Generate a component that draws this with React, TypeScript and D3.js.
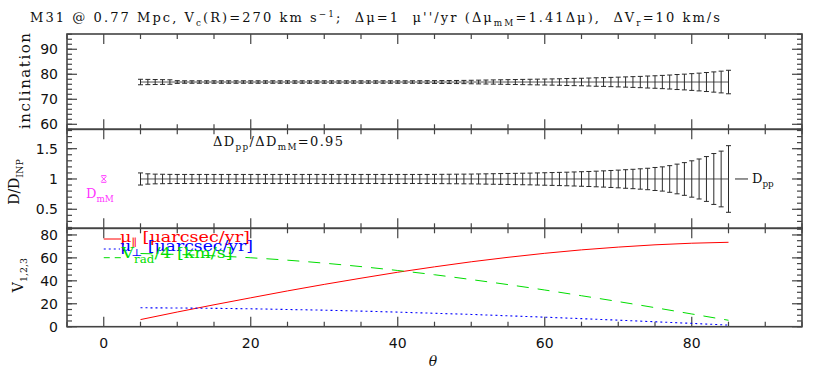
import React from "react";
import * as d3 from "d3";

// ---- data ----
const thetas = d3.range(5, 86); // one bar per degree, 5..85

const inclination = [
  76.9, 76.9, 76.9, 76.9, 76.9, 76.9, 76.9, 76.9, 76.9, 76.9,
  76.9, 76.9, 76.9, 76.9, 76.9, 76.9, 76.9, 76.9, 76.9, 76.9,
  76.9, 76.9, 76.9, 76.9, 76.9, 76.9, 76.9, 76.9, 76.9, 76.9,
  76.9, 76.9, 76.9, 76.9, 76.9, 76.9, 76.9, 76.9, 76.9, 76.9,
  76.9, 76.9, 76.9, 76.9, 76.9, 76.9, 76.9, 76.9, 76.9, 76.9,
  76.9, 76.9, 76.9, 76.9, 76.9, 76.9, 76.9, 76.9, 76.9, 76.9,
  76.9, 76.9, 76.9, 76.9, 76.9, 76.9, 76.9, 76.9, 76.9, 76.9,
  76.9, 76.9, 76.9, 76.9, 76.9, 76.9, 76.9, 76.9, 76.9, 76.9,
  76.9,
];
const inclinationErr = [
  1.1, 1.05, 1.0, 0.95, 0.9, 0.55, 0.5, 0.5, 0.5, 0.5,
  0.5, 0.5, 0.5, 0.5, 0.5, 0.5, 0.5, 0.5, 0.5, 0.5,
  0.5, 0.5, 0.5, 0.5, 0.5, 0.5, 0.5, 0.5, 0.5, 0.5,
  0.5, 0.5, 0.5, 0.5, 0.5, 0.5, 0.5, 0.5, 0.52, 0.54,
  0.56, 0.58, 0.6, 0.62, 0.65, 0.7, 0.75, 0.8, 0.85, 0.9,
  0.95, 1.0, 1.05, 1.1, 1.15, 1.2, 1.25, 1.3, 1.4, 1.45,
  1.5, 1.6, 1.7, 1.75, 1.85, 1.95, 2.05, 2.15, 2.25, 2.4,
  2.5, 2.65, 2.8, 3.0, 3.15, 3.35, 3.55, 3.8, 4.05, 4.35,
  4.7,
];

const distRatio = [
  1, 1, 1, 1, 1, 1, 1, 1, 1, 1,
  1, 1, 1, 1, 1, 1, 1, 1, 1, 1,
  1, 1, 1, 1, 1, 1, 1, 1, 1, 1,
  1, 1, 1, 1, 1, 1, 1, 1, 1, 1,
  1, 1, 1, 1, 1, 1, 1, 1, 1, 1,
  1, 1, 1, 1, 1, 1, 1, 1, 1, 1,
  1, 1, 1, 1, 1, 1, 1, 1, 1, 1,
  1, 1, 1, 1, 1, 1, 1, 1, 1, 1,
  1,
];
const distErr = [
  0.1, 0.085, 0.08, 0.078, 0.076, 0.075, 0.075, 0.075, 0.075, 0.075,
  0.075, 0.075, 0.075, 0.075, 0.075, 0.075, 0.075, 0.075, 0.075, 0.075,
  0.075, 0.075, 0.075, 0.075, 0.075, 0.075, 0.075, 0.075, 0.075, 0.075,
  0.075, 0.075, 0.075, 0.075, 0.075, 0.075, 0.075, 0.075, 0.075, 0.075,
  0.076, 0.077, 0.078, 0.079, 0.08, 0.081, 0.083, 0.085, 0.087, 0.089,
  0.091, 0.093, 0.095, 0.097, 0.1, 0.103, 0.106, 0.109, 0.112, 0.116,
  0.12, 0.124, 0.129, 0.134, 0.14, 0.146, 0.153, 0.16, 0.168, 0.177,
  0.19, 0.2, 0.22, 0.245, 0.27, 0.3, 0.33, 0.37, 0.42, 0.46,
  0.55,
];

const curveTheta = [5, 10, 15, 20, 25, 30, 35, 40, 45, 50, 55, 60, 65, 70, 75, 80, 85];
const muPar = [6.2, 12.8, 19.1, 25.2, 31.2, 36.9, 42.3, 47.5, 52.2, 56.6, 60.5, 64.0, 67.0, 69.4, 71.4, 72.8, 73.6];
const muPerp = [16.5, 16.3, 16.0, 15.6, 15.0, 14.4, 13.6, 12.7, 11.7, 10.7, 9.5, 8.3, 7.0, 5.7, 4.3, 2.9, 1.4];
const vRad4 = [63.8, 63.0, 61.8, 60.1, 58.0, 55.4, 52.4, 49.0, 45.3, 41.1, 36.7, 32.0, 27.0, 21.9, 16.6, 11.1, 5.6];

const xTickValues = [0, 20, 40, 60, 80];
const inclTickValues = [60, 70, 80, 90];
const distTickValues = [0.5, 1, 1.5];
const distTickLabels = ["0.5", "1", "1.5"];
const velTickValues = [0, 20, 40, 60, 80];

// ---- layout ----
const W = 830, H = 372;
const L = 67, R = 802;
const serif = "DejaVu Serif";
const sans = "DejaVu Sans";
const frameCol = "#444";
const barCol = "#2a2a2a";

const x = d3.scaleLinear().domain([-5, 95]).range([L, R]);
const yIncl = d3.scaleLinear().domain([58, 96.1]).range([129.3, 34]);
const yDist = d3.scaleLinear().domain([0.186, 1.82]).range([228.3, 129.3]);
const yVel = d3.scaleLinear().domain([0, 85.8]).range([326.7, 228.3]);

type Part = [string, string?];
function rich(parts: Part[], fs: number) {
  let shift = 0;
  return parts.map(([t, k], i) => {
    const target = k === "sub" ? fs * 0.32 : k === "sup" ? -fs * 0.38 : 0;
    const dy = target - shift;
    shift = target;
    return (
      <tspan key={i} dy={dy} fontSize={k ? fs * 0.68 : fs}>
        {t}
      </tspan>
    );
  });
}

function Panel({ y, major, labels, minor }: any) {
  const [y0, y1] = y.range();
  const xMinor = d3.range(-5, 96, 5);
  return (
    <g stroke={frameCol} strokeWidth={1.2}>
      {xMinor.map((v) => {
        const big = v % 20 === 0;
        const len = big ? 10 : 5;
        return (
          <g key={"x" + v}>
            <line x1={x(v)} x2={x(v)} y1={y0} y2={y0 - len} />
            <line x1={x(v)} x2={x(v)} y1={y1} y2={y1 + len} />
          </g>
        );
      })}
      {minor.map((v: number, i: number) => (
        <g key={"m" + i}>
          <line x1={L} x2={L + 5} y1={y(v)} y2={y(v)} />
          <line x1={R} x2={R - 5} y1={y(v)} y2={y(v)} />
        </g>
      ))}
      {major.map((v: number, i: number) => (
        <g key={"M" + i}>
          <line x1={L} x2={L + 10} y1={y(v)} y2={y(v)} />
          <line x1={R} x2={R - 10} y1={y(v)} y2={y(v)} />
          <text x={58} y={y(v) + 5} textAnchor="end" stroke="none" fill="#111"
            fontFamily={sans} fontSize={14}>{labels[i]}</text>
        </g>
      ))}
      <rect x={L} y={y1} width={R - L} height={y0 - y1} fill="none" strokeWidth={1.6} />
    </g>
  );
}

function ErrorBars({ y, vals, errs }: any) {
  const line = d3.line<number>().x((_, i) => x(thetas[i])).y((d) => y(d));
  return (
    <g stroke={barCol} strokeWidth={1} fill="none">
      <path d={line(vals) || ""} stroke="#555" />
      {thetas.map((t, i) => {
        const cx = x(t);
        const lo = y(vals[i] - errs[i]);
        const hi = y(vals[i] + errs[i]);
        return (
          <g key={t}>
            <line x1={cx} x2={cx} y1={lo} y2={hi} />
            <line x1={cx - 2.5} x2={cx + 2.5} y1={lo} y2={lo} />
            <line x1={cx - 2.5} x2={cx + 2.5} y1={hi} y2={hi} />
          </g>
        );
      })}
    </g>
  );
}

export default function App() {
  const velLine = (vals: number[]) =>
    d3.line<number>().x((_, i) => x(curveTheta[i])).y((d) => yVel(d)).curve(d3.curveMonotoneX)(vals) || "";
  const m0 = x(0);
  const m1 = yDist(1);
  return (
    <svg width={W} height={H} style={{ position: "absolute", left: 0, top: 0, background: "#fff" }}>
      <text x={30} y={21.5} fontFamily={serif} fontSize={13} fill="#111" textLength={690}
        lengthAdjust="spacing" style={{ whiteSpace: "pre" }}>
        {rich([
          ["M31 @ 0.77 Mpc, V"], ["c", "sub"], ["(R)=270 km s"], ["\u22121", "sup"],
          [";  \u0394\u03bc=1  \u03bc''/yr (\u0394\u03bc"], ["mM", "sub"], ["=1.41\u0394\u03bc),  \u0394V"],
          ["r", "sub"], ["=10 km/s"],
        ], 13)}
      </text>

      <Panel y={yIncl} major={inclTickValues} labels={inclTickValues.map(String)} minor={d3.range(58, 97, 2)} />
      <Panel y={yDist} major={distTickValues} labels={distTickLabels} minor={d3.range(2, 19).map((v) => v / 10)} />
      <Panel y={yVel} major={velTickValues} labels={velTickValues.map(String)} minor={d3.range(0, 86, 5)} />

      {xTickValues.map((v) => (
        <text key={v} x={x(v)} y={347.5} textAnchor="middle" fontFamily={sans} fontSize={14} fill="#111">{v}</text>
      ))}
      <text x={433} y={366} textAnchor="middle" fontFamily={serif} fontStyle="italic" fontSize={14} fill="#111">θ</text>

      {/* axis titles */}
      <text transform="translate(30,81) rotate(-90)" textAnchor="middle" fontFamily={serif} fontSize={15}
        fill="#111" textLength={96} lengthAdjust="spacing">inclination</text>
      <text transform="translate(18.5,182) rotate(-90)" textAnchor="middle" fontFamily={serif} fontSize={14} fill="#111">
        {rich([["D/D"], ["INP", "sub"]], 14)}
      </text>
      <text transform="translate(23,275) rotate(-90)" textAnchor="middle" fontFamily={serif} fontSize={14} fill="#111">
        {rich([["V"], ["1,2,3", "sub"]], 14)}
      </text>

      <ErrorBars y={yIncl} vals={inclination} errs={inclinationErr} />
      <ErrorBars y={yDist} vals={distRatio} errs={distErr} />

      {/* middle panel annotations */}
      <text x={213} y={146} fontFamily={serif} fontSize={13} fill="#111" textLength={130} lengthAdjust="spacing">
        {rich([["\u0394D"], ["pp", "sub"], ["/\u0394D"], ["mM", "sub"], ["=0.95"]], 13)}
      </text>
      <g stroke="#ff33ff" strokeWidth={1}>
        <line x1={m0 - 2.5} x2={m0 + 2.5} y1={m1 - 2.5} y2={m1 + 2.5} />
        <line x1={m0 - 2.5} x2={m0 + 2.5} y1={m1 + 2.5} y2={m1 - 2.5} />
        <line x1={m0 - 2.5} x2={m0 + 2.5} y1={m1 - 3.3} y2={m1 - 3.3} />
        <line x1={m0 - 2.5} x2={m0 + 2.5} y1={m1 + 3.3} y2={m1 + 3.3} />
      </g>
      <text x={86} y={198} fontFamily={serif} fontSize={13} fill="#ff33ff">
        {rich([["D"], ["mM", "sub"]], 13)}
      </text>
      <line x1={735} x2={748} y1={m1} y2={m1} stroke={barCol} strokeWidth={1} />
      <text x={752} y={m1 + 4} fontFamily={serif} fontSize={13} fill="#111">
        {rich([["D"], ["pp", "sub"]], 13)}
      </text>

      {/* bottom panel curves */}
      <path d={velLine(muPar)} fill="none" stroke="#ff0000" strokeWidth={1} />
      <path d={velLine(muPerp)} fill="none" stroke="#0000ff" strokeWidth={1.1} strokeDasharray="2,3" />
      <path d={velLine(vRad4)} fill="none" stroke="#00dd00" strokeWidth={1} strokeDasharray="12,9" />

      {/* legend */}
      <line x1={m0} x2={121} y1={239} y2={239} stroke="#ff0000" strokeWidth={1} />
      <text x={120} y={241.5} fontFamily={serif} fontSize={15} fill="#ff0000" textLength={130} lengthAdjust="spacingAndGlyphs">
        {rich([["\u03bc"], ["\u2225", "sub"], [" [\u03bcarcsec/yr]"]], 15)}
      </text>
      <line x1={m0} x2={120} y1={249} y2={249} stroke="#0000ff" strokeWidth={1.1} strokeDasharray="2,3" />
      <text x={120} y={251} fontFamily={serif} fontSize={15} fill="#0000ff" textLength={133} lengthAdjust="spacingAndGlyphs">
        {rich([["\u03bc"], ["\u22a5", "sub"], [" [\u03bcarcsec/yr]"]], 15)}
      </text>
      <line x1={m0} x2={121} y1={257.7} y2={257.7} stroke="#00dd00" strokeWidth={1} strokeDasharray="6,5" />
      <text x={121.5} y={258} fontFamily={serif} fontSize={15} fill="#00dd00" textLength={111} lengthAdjust="spacingAndGlyphs">
        {rich([["V"], ["rad", "sub"], ["/4 [km/s]"]], 15)}
      </text>
    </svg>
  );
}
